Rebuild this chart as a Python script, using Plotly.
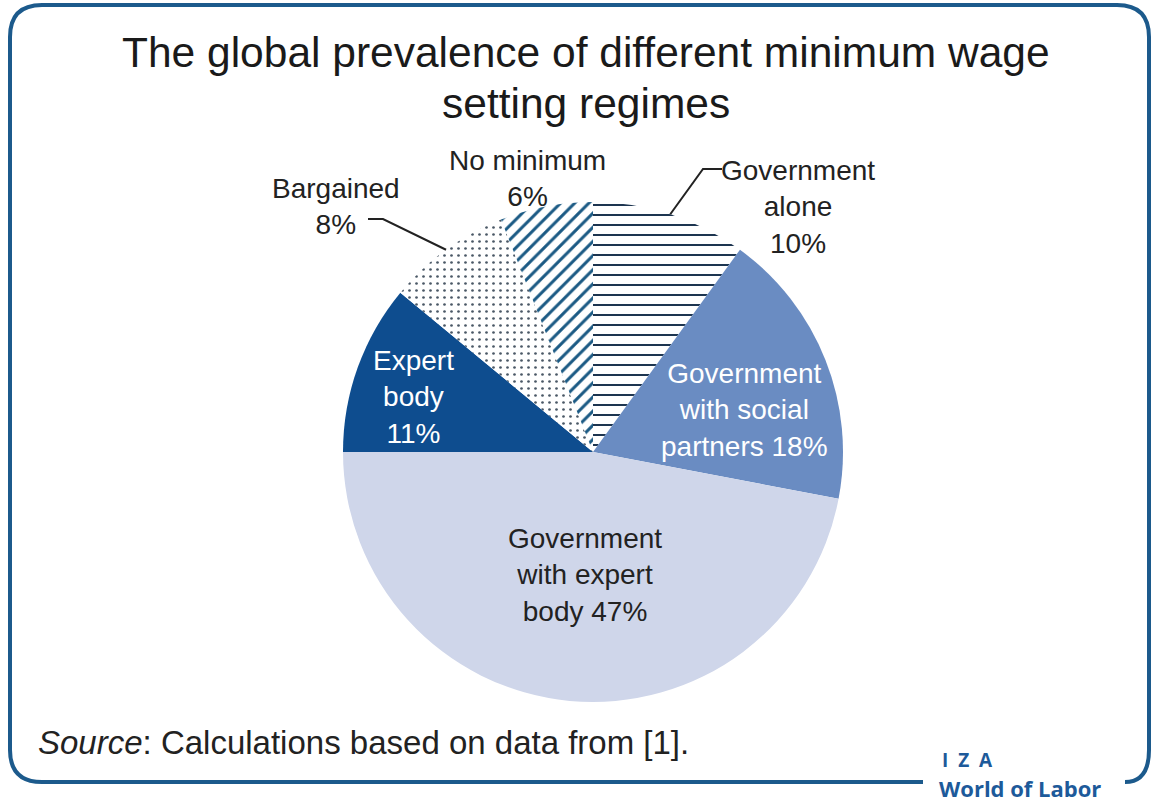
import math
import plotly.graph_objects as go

# Share of countries by minimum wage setting regime (clockwise from 12 o'clock)
regimes = ["Government alone", "Government with social partners", "Government with expert body",
           "Expert body", "Bargained", "No minimum"]
shares = [10, 18, 47, 11, 8, 6]
slice_colors = ["#ffffff", "#6a8cc2", "#cfd6ea", "#0e4d8f", "#ffffff", "#ffffff"]
pattern_shapes = ["-", "", "", "", ".", "/"]
pattern_fg = ["#1d3550", "#6a8cc2", "#cfd6ea", "#0e4d8f", "#4a5866", "#1b5a84"]
pattern_size = [10, 8, 8, 8, 7, 10]
pattern_solidity = [0.2, 0.3, 0.3, 0.3, 0.12, 0.3]

W, H = 1152, 803
CX, CY, R = 593, 452, 250   # pie centre and radius in pixels
FONT = "Liberation Sans, Arial, sans-serif"
FRAME = "#1c5a8c"


def px(x):
    return x / W


def py(y):
    return 1 - y / H


def rim_point(idx, r=R):
    """Point on the rim at the middle angle of slice idx."""
    total = sum(shares)
    start = sum(shares[:idx]) / total * 2 * math.pi
    mid = start + shares[idx] / total * math.pi
    return CX + r * math.sin(mid), CY - r * math.cos(mid)


fig = go.Figure()
fig.add_trace(go.Pie(
    labels=regimes,
    values=shares,
    sort=False,
    direction="clockwise",
    rotation=0,
    textinfo="none",
    hoverinfo="label+percent",
    showlegend=False,
    marker=dict(
        colors=slice_colors,
        line=dict(width=0),
        pattern=dict(shape=pattern_shapes, fgcolor=pattern_fg, bgcolor=slice_colors,
                     size=pattern_size, solidity=pattern_solidity),
    ),
    domain=dict(x=[px(CX - R), px(CX + R)], y=[py(CY + R), py(CY - R)]),
))

annotations = []


def label(text, x, y, color="#222222", size=28):
    annotations.append(dict(text=text, x=px(x), y=py(y), xref="paper", yref="paper",
                            showarrow=False, xanchor="center", yanchor="middle",
                            font=dict(family=FONT, size=size, color=color)))


# Title
label("The global prevalence of different minimum wage", 586, 52, "#1a1a1a", 42.5)
label("setting regimes", 586, 104, "#1a1a1a", 42.5)

# Slice labels
label(f"No minimum<br>{shares[5]}%", 527, 178)
label(f"Bargained<br>{shares[4]}%", 336, 206)
label(f"Government<br>alone<br>{shares[0]}%", 798, 207)
label(f"Expert<br>body<br>{shares[3]}%", 413, 397, "#ffffff")
label(f"Government<br>with social<br>partners {shares[1]}%", 744, 410, "#ffffff")
label(f"Government<br>with expert<br>body {shares[2]}%", 585, 575)

# Source note
annotations.append(dict(text="<i>Source</i>: Calculations based on data from [1].",
                        x=px(36), y=py(742), xref="paper", yref="paper", showarrow=False,
                        xanchor="left", yanchor="middle",
                        font=dict(family=FONT, size=33, color="#222222")))

# Logo text
annotations.append(dict(text="<b>I  Z  A</b>", x=px(940), y=py(760), xref="paper", yref="paper",
                        showarrow=False, xanchor="left", yanchor="middle",
                        font=dict(family="Open Sans, sans-serif", size=19, color="#1d5a9a")))
annotations.append(dict(text="<b>World of Labor</b>", x=px(937), y=py(788), xref="paper",
                        yref="paper", showarrow=False, xanchor="left", yanchor="middle",
                        font=dict(family="Open Sans, sans-serif", size=22, color="#1d5a9a")))

shapes = []

# Leader lines
bx, by = rim_point(4)
shapes.append(dict(type="path", xref="paper", yref="paper",
                   path=f"M {px(368)},{py(219)} L {px(383)},{py(219)} L {px(bx)},{py(by)}",
                   line=dict(color="#222222", width=2)))
gx, gy = rim_point(0)
shapes.append(dict(type="path", xref="paper", yref="paper",
                   path=f"M {px(gx)},{py(gy)} L {px(703)},{py(169)} L {px(722)},{py(169)}",
                   line=dict(color="#222222", width=2)))

# Rounded frame, open at the bottom right for the logo
r = 32
L, T, Rt, B = 10, 5, 1149, 782
frame_path = (
    f"M {px(923)},{py(B)} L {px(L + r)},{py(B)} "
    f"Q {px(L)},{py(B)} {px(L)},{py(B - r)} "
    f"L {px(L)},{py(T + r)} Q {px(L)},{py(T)} {px(L + r)},{py(T)} "
    f"L {px(Rt - r)},{py(T)} Q {px(Rt)},{py(T)} {px(Rt)},{py(T + r)} "
    f"L {px(Rt)},{py(B - r)} Q {px(Rt)},{py(B)} {px(1125)},{py(B)}"
)
shapes.append(dict(type="path", xref="paper", yref="paper", path=frame_path,
                   line=dict(color=FRAME, width=4)))

fig.update_layout(
    width=W, height=H,
    margin=dict(l=0, r=0, t=0, b=0),
    paper_bgcolor="#ffffff",
    plot_bgcolor="#ffffff",
    annotations=annotations,
    shapes=shapes,
)

fig.write_html("out.html")
